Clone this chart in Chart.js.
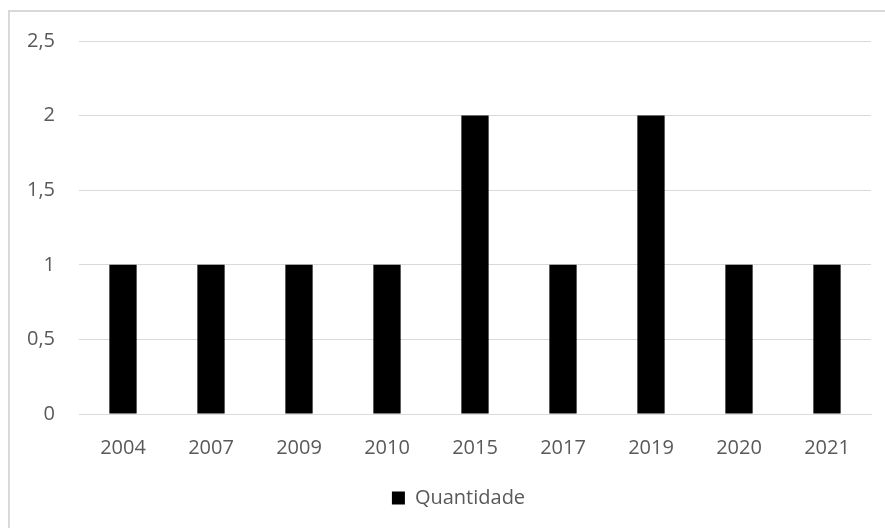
<!DOCTYPE html>
<html>
<head>
<meta charset="utf-8">
<script src="https://cdn.jsdelivr.net/npm/chart.js@4"></script>
<style>
  body { margin: 0; background: #fff; }
  #wrap { width: 885px; height: 528px; }
</style>
</head>
<body>
<div id="wrap"><canvas id="chart" width="885" height="528"></canvas></div>
<script>
// Data
const years = ['2004', '2007', '2009', '2010', '2015', '2017', '2019', '2020', '2021'];
const quantidade = [1, 1, 1, 1, 2, 1, 2, 1, 1];
const seriesLabel = 'Quantidade';

const textColor = '#595959';
const gridColor = '#d9d9d9';
const baseFont = { family: "'Open Sans', sans-serif", size: 20 };

// Light frame on the left and top edges (the picture is cropped on the other two)
// and a small nudge so the legend sits a bit right of centre, like the reference
const frame = {
  id: 'frame',
  afterLayout(chart) {
    if (chart.legend) {
      chart.legend.left = 46;
      chart.legend.top -= 4;
    }
  },
  beforeDraw(chart) {
    const ctx = chart.ctx;
    ctx.save();
    ctx.strokeStyle = gridColor;
    ctx.lineWidth = 2;
    ctx.beginPath();
    ctx.moveTo(9, chart.height);
    ctx.lineTo(9, 11);
    ctx.lineTo(chart.width, 11);
    ctx.stroke();
    ctx.restore();
  }
};

const data = {
  labels: years,
  datasets: [{
    label: seriesLabel,
    data: quantidade,
    backgroundColor: '#000000',
    borderWidth: 0,
    categoryPercentage: 1,
    barPercentage: 0.31
  }]
};

const config = {
  type: 'bar',
  data: data,
  options: {
    responsive: false,
    animation: false,
    layout: { padding: { top: 41, right: 14, bottom: 6, left: 0 } },
    plugins: {
      tooltip: { enabled: false },
      legend: {
        position: 'bottom',
        labels: {
          color: textColor,
          font: baseFont,
          boxWidth: 13,
          boxHeight: 13,
          padding: 10
        }
      }
    },
    scales: {
      x: {
        grid: { display: false, drawTicks: false },
        border: { display: true, color: gridColor, width: 1 },
        ticks: { color: textColor, font: baseFont, padding: 22 }
      },
      y: {
        min: 0,
        max: 2.5,
        afterFit(scale) { scale.width = 79; },
        grid: { color: gridColor, drawTicks: false },
        border: { display: false },
        ticks: {
          stepSize: 0.5,
          color: textColor,
          font: baseFont,
          padding: 24,
          callback: v => String(v).replace('.', ',')
        }
      }
    }
  },
  plugins: [frame]
};

const myChart = new Chart(document.getElementById('chart'), config);
</script>
</body>
</html>
